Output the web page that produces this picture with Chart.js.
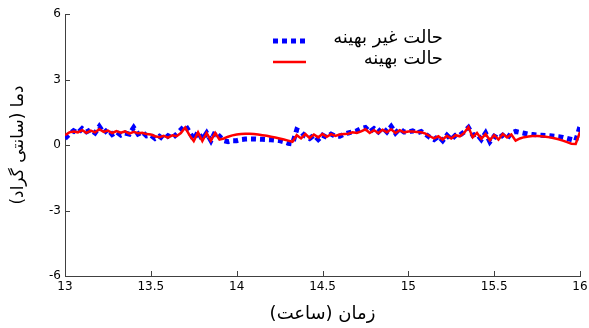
<!DOCTYPE html>
<html>
<head>
<meta charset="utf-8">
<script src="https://cdn.jsdelivr.net/npm/chart.js@4"></script>
<style>
  body { margin: 0; background: #fff; }
  #wrap { width: 589px; height: 328px; }
</style>
</head>
<body>
<div id="wrap"><canvas id="chartDama"></canvas></div>
<script>
const hours = [
  13.000, 13.025, 13.050, 13.075, 13.100, 13.125, 13.150, 13.175, 13.200, 13.225,
  13.250, 13.275, 13.300, 13.325, 13.350, 13.375, 13.400, 13.425, 13.450, 13.475,
  13.500, 13.525, 13.550, 13.575, 13.600, 13.625, 13.650, 13.675, 13.700, 13.725,
  13.750, 13.775, 13.800, 13.825, 13.850, 13.875, 13.900, 13.925, 13.950, 13.975,
  14.000, 14.025, 14.050, 14.075, 14.100, 14.125, 14.150, 14.175, 14.200, 14.225,
  14.250, 14.275, 14.300, 14.325, 14.350, 14.375, 14.400, 14.425, 14.450, 14.475,
  14.500, 14.525, 14.550, 14.575, 14.600, 14.625, 14.650, 14.675, 14.700, 14.725,
  14.750, 14.775, 14.800, 14.825, 14.850, 14.875, 14.900, 14.925, 14.950, 14.975,
  15.000, 15.025, 15.050, 15.075, 15.100, 15.125, 15.150, 15.175, 15.200, 15.225,
  15.250, 15.275, 15.300, 15.325, 15.350, 15.375, 15.400, 15.425, 15.450, 15.475,
  15.500, 15.525, 15.550, 15.575, 15.600, 15.625, 15.650, 15.675, 15.700, 15.725,
  15.750, 15.775, 15.800, 15.825, 15.850, 15.875, 15.900, 15.925, 15.950, 15.975,
  16.000
];

// حالت غیر بهینه
const nonOptimal = [
  0.30, 0.50, 0.65, 0.55, 0.75, 0.60, 0.70, 0.55, 0.85, 0.55,
  0.72, 0.48, 0.60, 0.45, 0.55, 0.50, 0.80, 0.50, 0.60, 0.42,
  0.45, 0.30, 0.40, 0.25, 0.42, 0.32, 0.50, 0.70, 0.90, 0.60,
  0.25, 0.60, 0.25, 0.55, 0.20, 0.60, 0.40, 0.20, 0.15, 0.20,
  0.20, 0.25, 0.27, 0.28, 0.28, 0.27, 0.26, 0.25, 0.24, 0.22,
  0.20, 0.15, 0.08, 0.05, 0.70, 0.60, 0.40, 0.30, 0.45, 0.25,
  0.45, 0.35, 0.50, 0.40, 0.40, 0.50, 0.55, 0.60, 0.65, 0.75,
  0.80, 0.60, 0.75, 0.60, 0.80, 0.60, 0.85, 0.55, 0.75, 0.60,
  0.60, 0.65, 0.55, 0.62, 0.50, 0.35, 0.25, 0.40, 0.20, 0.45,
  0.25, 0.45, 0.45, 0.60, 0.80, 0.45, 0.50, 0.25, 0.55, 0.15,
  0.40, 0.30, 0.45, 0.30, 0.55, 0.62, 0.58, 0.54, 0.50, 0.48,
  0.46, 0.45, 0.44, 0.42, 0.40, 0.38, 0.35, 0.30, 0.25, 0.20,
  0.85
];

// حالت بهینه
const optimal = [
  0.45, 0.58, 0.62, 0.58, 0.68, 0.56, 0.66, 0.58, 0.72, 0.60,
  0.66, 0.55, 0.64, 0.56, 0.62, 0.52, 0.60, 0.54, 0.56, 0.50,
  0.48, 0.40, 0.36, 0.42, 0.34, 0.44, 0.40, 0.55, 0.80, 0.45,
  0.18, 0.58, 0.18, 0.55, 0.20, 0.55, 0.25, 0.30, 0.38, 0.44,
  0.48, 0.50, 0.51, 0.51, 0.50, 0.48, 0.45, 0.42, 0.38, 0.34,
  0.30, 0.25, 0.20, 0.15, 0.45, 0.30, 0.50, 0.32, 0.48, 0.35,
  0.50, 0.38, 0.50, 0.42, 0.48, 0.50, 0.52, 0.58, 0.55, 0.62,
  0.72, 0.55, 0.68, 0.55, 0.70, 0.58, 0.72, 0.55, 0.68, 0.58,
  0.62, 0.62, 0.60, 0.58, 0.52, 0.40, 0.30, 0.40, 0.25, 0.42,
  0.30, 0.45, 0.40, 0.55, 0.82, 0.35, 0.55, 0.28, 0.50, 0.22,
  0.45, 0.25, 0.50, 0.35, 0.48, 0.20, 0.30, 0.36, 0.39, 0.41,
  0.41, 0.40, 0.38, 0.35, 0.31, 0.26, 0.20, 0.13, 0.06, 0.05,
  0.60
];

const xTicks = [13, 13.5, 14, 14.5, 15, 15.5, 16];
const yTicks = [-6, -3, 0, 3, 6];

const blueColor = "#0000ff";
const redColor = "#ff0000";
const axisColor = "#404040";
const persianFont = "'DejaVu Sans'";

const toPoints = (ys) => ys.map((y, i) => ({ x: hours[i], y: y }));

// tick marks drawn inward + legend with right-aligned persian labels
const innerTicksAndLegend = {
  id: "innerTicksAndLegend",
  afterDraw(chart) {
    const ctx = chart.ctx;
    const xs = chart.scales.x;
    const ys = chart.scales.y;
    const area = chart.chartArea;
    ctx.save();
    ctx.strokeStyle = axisColor;
    ctx.lineWidth = 1;
    ctx.beginPath();
    xTicks.forEach((t) => {
      const px = Math.round(xs.getPixelForValue(t)) + 0.5;
      ctx.moveTo(px, area.bottom);
      ctx.lineTo(px, area.bottom - 5);
    });
    yTicks.forEach((t) => {
      const py = Math.round(ys.getPixelForValue(t)) + 0.5;
      ctx.moveTo(area.left, py);
      ctx.lineTo(area.left + 5, py);
    });
    ctx.stroke();

    // legend
    const rows = [
      { ds: chart.data.datasets[0], y: 41 },
      { ds: chart.data.datasets[1], y: 62 },
    ];
    rows.forEach((r) => {
      ctx.beginPath();
      ctx.strokeStyle = r.ds.borderColor;
      ctx.lineWidth = r.ds.borderWidth;
      ctx.setLineDash(r.ds.borderDash || []);
      ctx.moveTo(273, r.y);
      ctx.lineTo(306, r.y);
      ctx.stroke();
      ctx.setLineDash([]);
      ctx.fillStyle = "#000";
      ctx.font = "18px " + persianFont;
      ctx.textAlign = "right";
      ctx.textBaseline = "middle";
      ctx.fillText(r.ds.label, 443, r.y - 3);
    });
    ctx.restore();
  },
};

new Chart(document.getElementById("chartDama"), {
  type: "line",
  data: {
    datasets: [
      {
        label: "حالت غیر بهینه",
        data: toPoints(nonOptimal),
        borderColor: blueColor,
        backgroundColor: blueColor,
        borderWidth: 5,
        borderDash: [5, 4],
        pointRadius: 0,
        tension: 0,
        order: 2,
      },
      {
        label: "حالت بهینه",
        data: toPoints(optimal),
        borderColor: redColor,
        backgroundColor: redColor,
        borderWidth: 2.5,
        pointRadius: 0,
        tension: 0,
        order: 1,
      },
    ],
  },
  options: {
    responsive: true,
    maintainAspectRatio: false,
    animation: false,
    layout: { padding: { top: 14, right: 9, left: 0, bottom: 0 } },
    plugins: {
      legend: { display: false },
      tooltip: { enabled: false },
    },
    scales: {
      x: {
        type: "linear",
        min: 13,
        max: 16,
        afterBuildTicks: (s) => { s.ticks = xTicks.map((v) => ({ value: v })); },
        afterFit: (s) => { s.height = 52; s.paddingRight = 0; s.paddingLeft = 0; },
        grid: { display: false, drawTicks: false },
        border: { display: true, color: axisColor, width: 1 },
        ticks: {
          color: "#000",
          padding: 4,
          maxRotation: 0,
          font: { family: persianFont, size: 12 },
          callback: (v) => String(v),
        },
        title: {
          display: true,
          text: "زمان (ساعت)",
          color: "#000",
          font: { family: persianFont, size: 18 },
          padding: { top: 0, bottom: 3 },
        },
      },
      y: {
        min: -6,
        max: 6,
        afterBuildTicks: (s) => { s.ticks = yTicks.map((v) => ({ value: v })); },
        afterFit: (s) => { s.width = 65; },
        grid: { display: false, drawTicks: false },
        border: { display: true, color: axisColor, width: 1 },
        ticks: {
          color: "#000",
          padding: 4,
          font: { family: persianFont, size: 12 },
          callback: (v) => String(v),
        },
        title: {
          display: true,
          text: "دما (سانتی گراد)",
          color: "#000",
          font: { family: persianFont, size: 17 },
          padding: { top: 8, bottom: 0 },
        },
      },
    },
  },
  plugins: [innerTicksAndLegend],
});
</script>
</body>
</html>
